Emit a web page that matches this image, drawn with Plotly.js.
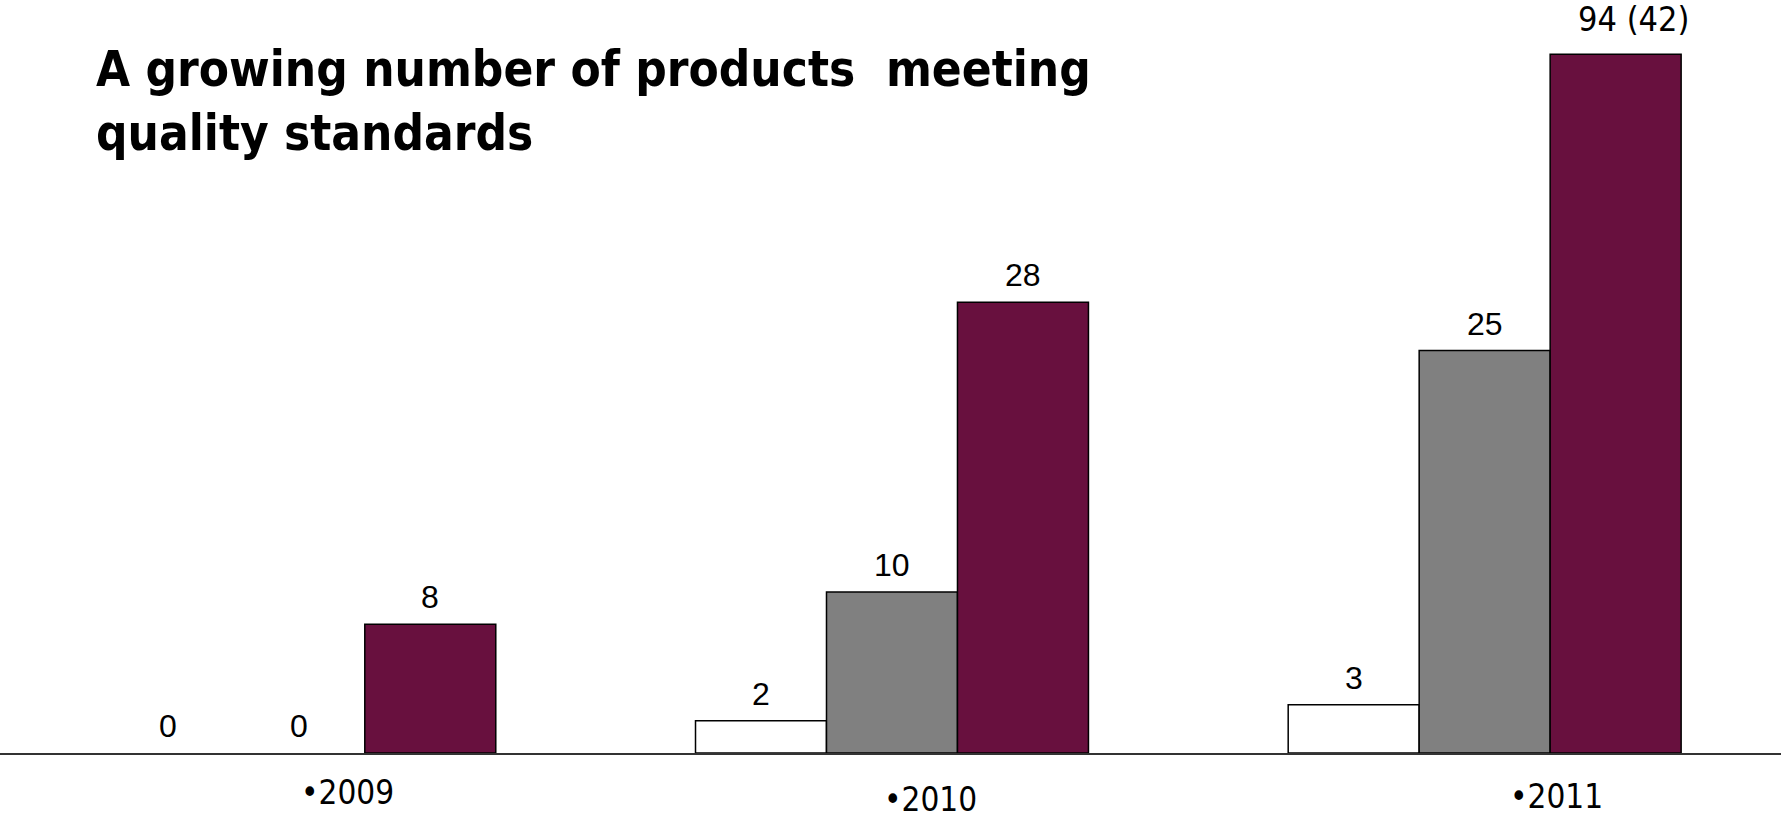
<!DOCTYPE html>
<html>
<head>
<meta charset="utf-8">
<script src="https://cdn.plot.ly/plotly-3.0.1.min.js"></script>
<style>
  html, body { margin: 0; padding: 0; background: #ffffff; }
  #chart { width: 1781px; height: 821px; }
</style>
</head>
<body>
<div id="chart"></div>
<script>
// ---- data ----
const categories   = ["2009", "2010", "2011"];
const yearLabels   = ["\u20222009", "\u20222010", "\u20222011"];
const whiteValues  = [0, 2, 3];
const whiteLabels  = ["0", "2", "3"];
const grayValues   = [0, 10, 25];
const grayLabels   = ["0", "10", "25"];
const maroonValues = [8, 28, 43.4];
const maroonLabels = ["8", "28", "94 (42)"];

// ---- styling / layout helpers (not data) ----
const labelFont = "Liberation Sans, Arial, sans-serif";
const humanistFont = "DejaVu Sans Condensed, DejaVu Sans, sans-serif";
const bargap = 0.337;
const barW = (1 - bargap) / 3;
const yearLabelDx = [0.082, 0.065, 0.122];
const yearLabelDy = [-39, -46, -43.5];

const series = [
  { name: "Series 1", values: whiteValues, labels: whiteLabels, color: "#ffffff" },
  { name: "Series 2", values: grayValues, labels: grayLabels, color: "#808080" },
  { name: "Series 3", values: maroonValues, labels: maroonLabels, color: "#68103e" }
];

const traces = series.map(s => ({
  type: "bar", name: s.name, x: categories, y: s.values,
  marker: {
    color: s.color,
    line: { color: "#000000", width: s.values.map(v => (v === 0 ? 0 : 1.5)) }
  },
  hoverinfo: "x+y"
}));

const annotations = [];
// value labels above each bar
series.forEach((s, k) => {
  s.values.forEach((v, i) => {
    const special = s.labels[i].length > 3;
    annotations.push({
      xref: "x", yref: "y",
      x: i + (k - 1) * barW, y: v,
      xanchor: "center", yanchor: "bottom",
      xshift: special ? 18 : 0,
      yshift: special ? 14 : 8,
      borderpad: 0,
      text: s.labels[i], showarrow: false,
      font: special
        ? { family: humanistFont, size: 34, color: "#000000" }
        : { family: labelFont, size: 32, color: "#000000" }
    });
  });
});
// category labels under the axis
categories.forEach((c, i) => {
  annotations.push({
    xref: "x", yref: "paper",
    x: i + yearLabelDx[i], y: 0,
    xanchor: "center", yanchor: "middle",
    yshift: yearLabelDy[i], borderpad: 0,
    text: yearLabels[i], showarrow: false,
    font: { family: humanistFont, size: 33, color: "#000000" }
  });
});

const layout = {
  width: 1781, height: 821,
  paper_bgcolor: "#ffffff", plot_bgcolor: "#ffffff",
  margin: { l: 0, r: 0, t: 0, b: 68, pad: 0 },
  showlegend: false,
  barmode: "group",
  bargap: bargap, bargroupgap: 0,
  title: {
    text: "A growing number of products  meeting<br>quality standards",
    font: { family: humanistFont, size: 49, color: "#000000", weight: "bold" },
    xref: "container", yref: "container",
    x: 96 / 1781, xanchor: "left",
    y: 1 - 86 / 821, yanchor: "top"
  },
  xaxis: {
    type: "category",
    range: [-0.505, 2.5],
    showline: true, linecolor: "#333333", linewidth: 2,
    showgrid: false, zeroline: false,
    ticks: "", showticklabels: false,
    fixedrange: true
  },
  yaxis: {
    range: [0, 46.77],
    visible: false, showgrid: false, zeroline: false,
    fixedrange: true
  },
  annotations: annotations
};

Plotly.newPlot("chart", traces, layout, { displayModeBar: false, staticPlot: true });
</script>
</body>
</html>
